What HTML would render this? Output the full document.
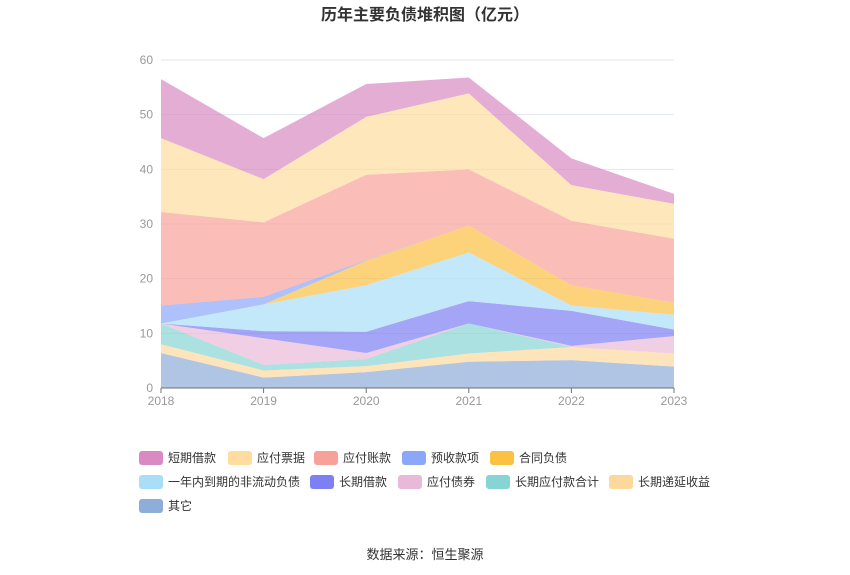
<!DOCTYPE html>
<html><head><meta charset="utf-8"><style>
body{margin:0;background:#fff;font-family:"Liberation Sans","Noto Sans CJK SC",sans-serif;}
#wrap{position:relative;width:850px;height:575px;overflow:hidden}
</style></head><body><div id="wrap">
<svg id="svg" width="850" height="575" xmlns="http://www.w3.org/2000/svg">
<text x="425" y="20" text-anchor="middle" font-size="16" font-weight="bold" fill="#333" font-family="Liberation Sans, Noto Sans CJK SC, sans-serif">历年主要负债堆积图（亿元）</text>
<g id="grid"></g><g id="areas"></g><g id="axes"></g><g id="legend"></g>
<text x="425" y="559" text-anchor="middle" font-size="13" fill="#333" font-family="Liberation Sans, Noto Sans CJK SC, sans-serif">数据来源：恒生聚源</text>
</svg></div>
<script>
const years=["2018","2019","2020","2021","2022","2023"];
const yTicks=[0,10,20,30,40,50,60];
const seriesNames=["其它","长期递延收益","长期应付款合计","应付债券","长期借款","一年内到期的非流动负债","合同负债","预收款项","应付账款","应付票据","短期借款"];
const s_other=[6.4,1.9,2.9,4.8,5.1,3.9];
const s_deferred=[1.6,1.3,1.1,1.5,2.4,2.4];
const s_ltPayable=[3.8,1.0,1.3,5.5,0,0];
const s_bonds=[0,4.9,1.1,0,0.2,3.2];
const s_ltLoan=[0,1.3,3.9,4.1,6.4,1.2];
const s_currentNC=[0,4.9,8.5,8.9,1.0,2.7];
const s_contract=[0,0,4.5,4.9,3.7,2.2];
const s_advance=[3.3,1.4,0.1,0,0,0];
const s_accounts=[17.1,13.6,15.6,10.3,11.8,11.7];
const s_notes=[13.5,7.9,10.6,13.9,6.5,6.4];
const s_short=[10.8,7.5,6.0,2.9,4.9,1.8];
const seriesData=[s_other,s_deferred,s_ltPayable,s_bonds,s_ltLoan,s_currentNC,s_contract,s_advance,s_accounts,s_notes,s_short];
const colors=["#8fadd9","#fdd89c","#87d4d4","#e9b9d9","#7e7ff2","#a9def8","#fbc143","#8ba7f8","#f8a19a","#fedd9e","#d98ac2"];
const legendOrder=[10,9,8,7,6,5,4,3,2,1,0];
const NS="http://www.w3.org/2000/svg";
const X0=161,X1=674,Y0=388,Y1=60;
const xs=i=>X0+(X1-X0)*i/(years.length-1);
const ys=v=>Y0-(Y0-Y1)*v/60;
function mk(t,a,p){const e=document.createElementNS(NS,t);for(const k in a)e.setAttribute(k,a[k]);p.appendChild(e);return e;}
const grid=document.getElementById('grid'),axes=document.getElementById('axes'),areas=document.getElementById('areas'),legend=document.getElementById('legend');
yTicks.forEach(v=>{
 if(v>0){const l=mk('line',{x1:X0,x2:X1,y1:ys(v),y2:ys(v),stroke:'#e0e6f1'},grid);
 
 }
 const t=mk('text',{x:X0-8,y:ys(v)+4,'text-anchor':'end','font-size':12,fill:'#999'},axes);t.textContent=v;
 
 
});
let cum=years.map(()=>0);
seriesData.forEach((d,si)=>{
 const lower=cum.slice();const upper=cum.map((c,i)=>c+d[i]);
 let p='M'+upper.map((v,i)=>xs(i)+','+ys(v)).join('L');
 for(let i=years.length-1;i>=0;i--)p+='L'+xs(i)+','+ys(lower[i]);
 p+='Z';
 const a=mk('path',{d:p,fill:colors[si],'fill-opacity':0.7},areas);
 
 
 cum=upper;
});
mk('line',{x1:X0,x2:X1,y1:Y0,y2:Y0,stroke:'#6e7079'},axes);
years.forEach((y,i)=>{
 mk('line',{x1:xs(i),x2:xs(i),y1:Y0,y2:Y0+5,stroke:'#6e7079'},axes);
 const t=mk('text',{x:xs(i),y:Y0+17,'text-anchor':'middle','font-size':12,fill:'#999'},axes);t.textContent=y;
 
 
});
const lpos=[[139,458],[228,458],[314,458],[402,458],[490,458],[139,482],[310,482],[398,482],[486,482],[609,482],[139,506]];
legendOrder.forEach((si,k)=>{
 const [x,y]=lpos[k];
 const g=mk('g',{},legend);
 
 
 mk('rect',{x:x,y:y-7,width:24,height:14,rx:3,fill:colors[si]},g);
 const t=mk('text',{x:x+29,y:y+4,'font-size':12,fill:'#333'},g);t.textContent=seriesNames[si];
});
</script></body></html>
